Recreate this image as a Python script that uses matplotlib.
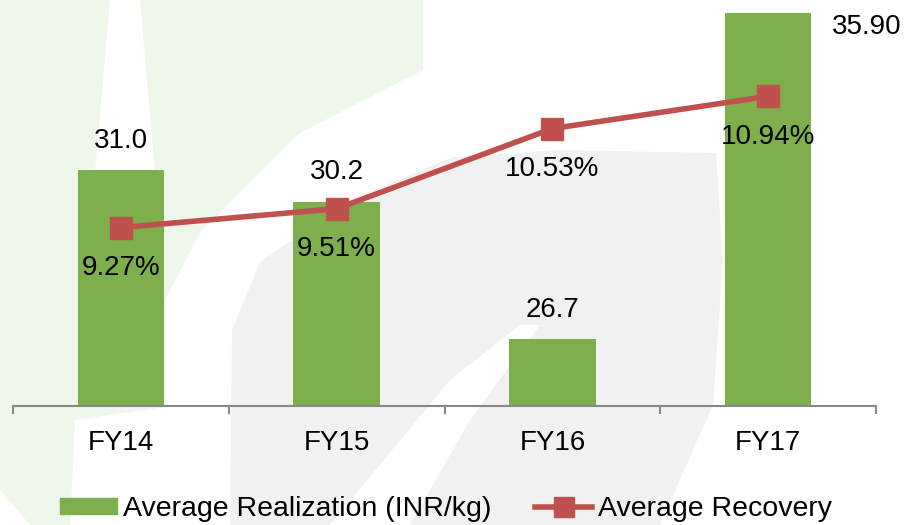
import matplotlib.pyplot as plt
from matplotlib.patches import Polygon
from matplotlib.lines import Line2D
from matplotlib.patches import Patch
import numpy as np

plt.rcParams['font.family'] = ['Liberation Sans', 'DejaVu Sans']

# data
years = ["FY14", "FY15", "FY16", "FY17"]
realization = [31.0, 30.2, 26.7, 35.90]
realization_labels = ["31.0", "30.2", "26.7", "35.90"]
recovery = [9.27, 9.51, 10.53, 10.94]
recovery_labels = ["9.27%", "9.51%", "10.53%", "10.94%"]

bar_color = '#7DB04C'
line_color = '#C0504D'

W, H = 906, 525
fig = plt.figure(figsize=(W / 100, H / 100), dpi=100)


def px(pts):
    return [(x / W, 1 - y / H) for x, y in pts]


# faint watermark behind the chart
green_zone = [(0, 0), (423, 0), (423, 70), (300, 133), (200, 233), (165, 300),
              (165, 407), (75, 420), (70, 525), (30, 525), (0, 490)]
grey_zone = [(453, 157), (560, 150), (716, 153), (723, 262), (713, 405), (660, 525),
             (230, 525), (232, 330), (260, 262), (350, 200)]
white_spike = [(110, 0), (140, 0), (155, 172), (95, 172)]
white_band = [(330, 525), (410, 525), (470, 420), (540, 325), (520, 325), (450, 380)]
for pts, fc in [(green_zone, '#eff6ea'), (grey_zone, '#f1f1f1'),
                (white_spike, 'white'), (white_band, 'white')]:
    fig.patches.append(Polygon(px(pts), closed=True, transform=fig.transFigure,
                               facecolor=fc, edgecolor='none', zorder=-5))

ax = fig.add_axes([13 / W, 1 - 406 / H, 863 / W, 393 / H])
ax.patch.set_visible(False)
x = np.arange(len(years))
ax.bar(x, realization, width=0.4, color=bar_color, zorder=2)
ax.set_xlim(-0.5, 3.5)
ax.set_ylim(25, 35)
ax.set_yticks([])
for s in ['top', 'left', 'right']:
    ax.spines[s].set_visible(False)
ax.spines['bottom'].set_color('#888888')
ax.spines['bottom'].set_linewidth(1.5)
ax.set_xticks(x)
ax.set_xticklabels(years, fontsize=20)
ax.tick_params(axis='x', which='major', length=0, pad=17)
ax.set_xticks(np.arange(-0.5, 4, 1), minor=True)
ax.tick_params(axis='x', which='minor', length=6, width=1.5, color='#888888')

for i in range(3):
    ax.annotate(realization_labels[i], (x[i], realization[i]), xytext=(0, 21),
                textcoords='offset points', ha='center', va='center', fontsize=20)
# last bar runs past the axis top; label sits off to the right
ax.annotate(realization_labels[3], (x[3], 35), xytext=(71, -10),
            textcoords='offset points', ha='center', va='center', fontsize=20,
            annotation_clip=False)

ax2 = ax.twinx()
ax2.set_ylim(7, 12)
ax2.set_yticks([])
for s in ['top', 'left', 'right', 'bottom']:
    ax2.spines[s].set_visible(False)
ax2.plot(x, recovery, color=line_color, lw=4, marker='s', markersize=16, zorder=3)
for i in range(4):
    ax2.annotate(recovery_labels[i], (x[i], recovery[i]), xytext=(0, -29),
                 textcoords='offset points', ha='center', va='center', fontsize=20)

handles = [Patch(color=bar_color, label="Average Realization (INR/kg)"),
           Line2D([], [], color=line_color, lw=4, marker='s', markersize=14,
                  label="Average Recovery")]
fig.legend(handles=handles, loc='center', bbox_to_anchor=(0.4923, 0.0305), ncol=2,
           frameon=False, fontsize=20.5, handlelength=2.0, handleheight=0.5,
           handletextpad=0.2, columnspacing=1.55, borderpad=0)

fig.savefig("out.png", dpi=100)
